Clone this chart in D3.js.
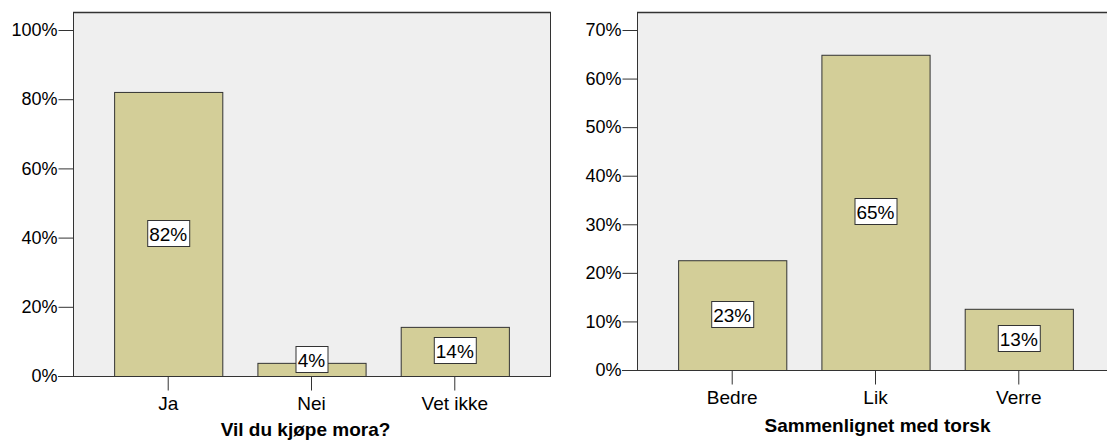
<!DOCTYPE html>
<html>
<head>
<meta charset="utf-8">
<script src="https://cdn.jsdelivr.net/npm/d3@7"></script>
<style>
  body{margin:0;background:#fff;}
  svg{display:block;font-family:Arial,"Liberation Sans",sans-serif;}
  .tick text{fill:#000;}
</style>
</head>
<body>
<svg width="1107" height="441"></svg>
<script>
// left chart
const kjopeCats = ["Ja", "Nei", "Vet ikke"];
const kjopeVals = [82.1, 3.8, 14.2];
const kjopeTicks = [0, 20, 40, 60, 80, 100];
// right chart
const torskCats = ["Bedre", "Lik", "Verre"];
const torskVals = [22.6, 64.9, 12.6];
const torskTicks = [0, 10, 20, 30, 40, 50, 60, 70];

const svg = d3.select("svg");

function drawPanel(cfg){
    const g = svg.append("g");
    const y = d3.scaleLinear().domain([0, cfg.max]).range([cfg.bottom, 30]);
    const x = d3.scaleBand().domain(cfg.cats).range([cfg.left, cfg.right])
                .paddingInner(0.245).paddingOuter(0.287);

    // plot frame
    g.append("rect")
     .attr("x", cfg.left + 0.5).attr("y", 12.5)
     .attr("width", cfg.right - cfg.left).attr("height", cfg.bottom - 12)
     .attr("fill", "#efefef").attr("stroke", "#333").attr("stroke-width", 1);
    g.append("line")
     .attr("x1", cfg.left).attr("x2", cfg.right + 1).attr("y1", 12.5).attr("y2", 12.5)
     .attr("stroke", "#333").attr("stroke-width", 1.6);

    // y axis
    const ya = g.append("g")
     .attr("transform", `translate(${cfg.left + 0.5},0)`)
     .call(d3.axisLeft(y).tickValues(cfg.ticks).tickSize(15).tickSizeOuter(0).tickPadding(1)
           .tickFormat(d => d + "%"));
    ya.select(".domain").remove();
    ya.selectAll(".tick line").attr("stroke", "#333");
    ya.selectAll(".tick text").attr("font-size", 18).attr("font-family", "Arial, 'Liberation Sans'");

    // bars
    g.selectAll(".bar")
     .data(cfg.vals)
     .enter().append("rect")
     .attr("class", "bar")
     .attr("x", (d, i) => x(cfg.cats[i]) + 0.5)
     .attr("y", d => y(d) + 0.5)
     .attr("width", x.bandwidth())
     .attr("height", d => cfg.bottom - y(d))
     .attr("fill", "#d3ce98")
     .attr("stroke", "#333");

    // bottom axis line + ticks
    const xa = g.append("g")
     .attr("transform", `translate(0,${cfg.bottom + 0.5})`)
     .call(d3.axisBottom(x).tickSize(14).tickSizeOuter(0).tickPadding(6));
    xa.select(".domain").attr("d", `M${cfg.left - 15},0H${cfg.right}`).attr("stroke", "#333");
    xa.selectAll(".tick line").attr("stroke", "#333");
    xa.selectAll(".tick text").attr("font-size", 19).attr("font-family", "Arial, 'Liberation Sans'");

    // value labels
    const lab = g.selectAll(".lab")
     .data(cfg.vals)
     .enter().append("g")
     .attr("class", "lab")
     .attr("transform", (d, i) => {
         const cx = x(cfg.cats[i]) + x.bandwidth() / 2;
         const cy = Math.min((y(d) + cfg.bottom) / 2, cfg.bottom - 16);
         return `translate(${cx},${Math.round(cy)})`;
     });
    lab.append("text")
     .attr("text-anchor", "middle").attr("dy", "0.36em")
     .attr("font-size", 19)
     .text(d => Math.round(d) + "%");
    lab.each(function(){
        const t = d3.select(this).select("text");
        const b = t.node().getBBox();
        d3.select(this).insert("rect", "text")
          .attr("x", Math.round(b.x - 2) + 0.5).attr("y", -13.5)
          .attr("width", Math.round(b.width + 4)).attr("height", 26)
          .attr("fill", "#fff").attr("stroke", "#333");
    });

    // axis title
    g.append("text")
     .attr("x", (cfg.left + cfg.right) / 2 + cfg.titleShift)
     .attr("y", cfg.titleY)
     .attr("text-anchor", "middle")
     .attr("font-size", 19).attr("font-weight", "bold")
     .text(cfg.title);
}

drawPanel({cats: kjopeCats, vals: kjopeVals, ticks: kjopeTicks, max: 100,
           left: 73, right: 550, bottom: 376, title: "Vil du kjøpe mora?", titleY: 436, titleShift: -6});
drawPanel({cats: torskCats, vals: torskVals, ticks: torskTicks, max: 70,
           left: 637, right: 1114, bottom: 370, title: "Sammenlignet med torsk", titleY: 432, titleShift: 2});
</script>
</body>
</html>
